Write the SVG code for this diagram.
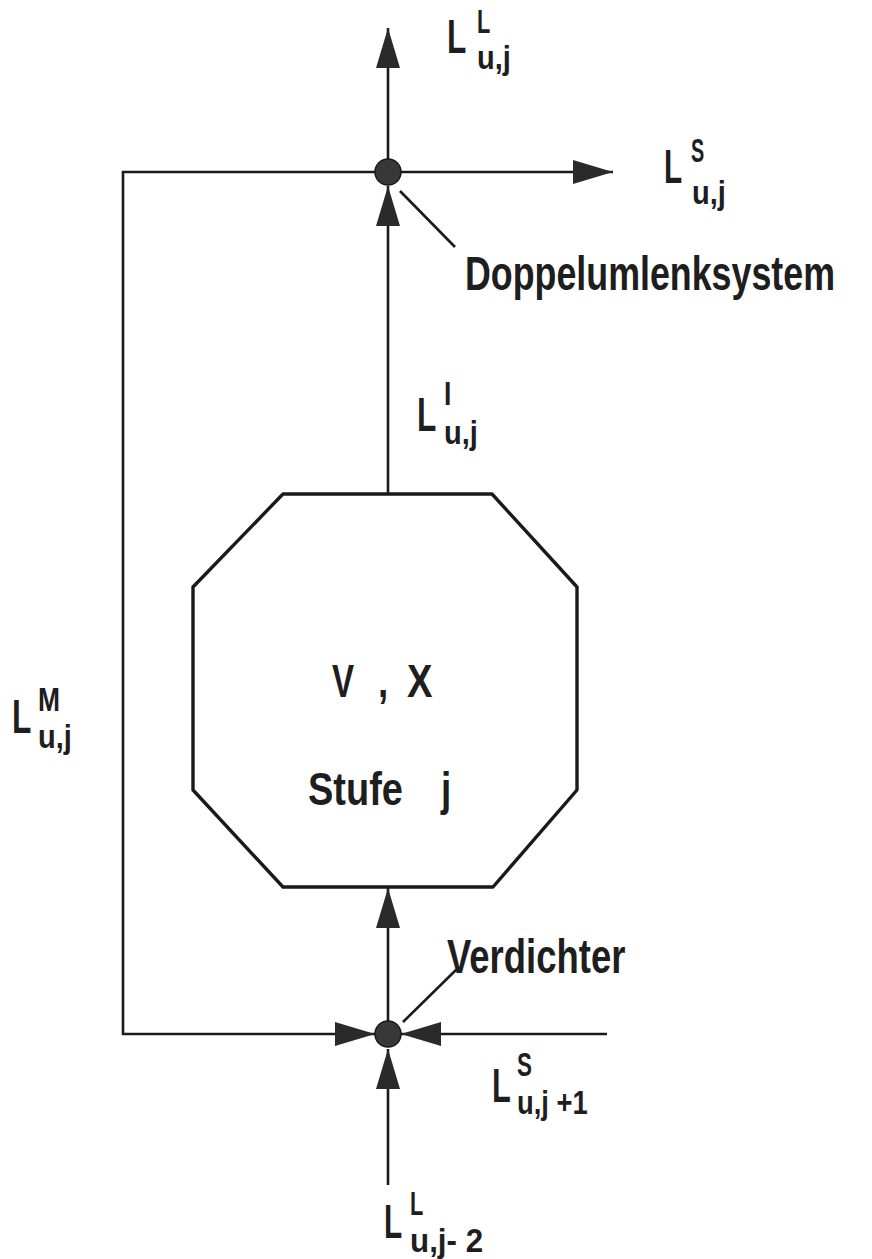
<svg xmlns="http://www.w3.org/2000/svg" width="872" height="1259" viewBox="0 0 872 1259">
<style>
  .ln{fill:none;stroke:#1a1a1a;stroke-width:2.6}
  .oct{fill:#fff;stroke:#1a1a1a;stroke-width:3.4;stroke-linejoin:round}
  .dot{fill:#383838;stroke:#1a1a1a;stroke-width:1.5}
  .t{font-family:"Liberation Sans","DejaVu Sans",sans-serif;font-weight:bold;fill:#1e1e1e}
  .big{font-size:48px}
  .mid{font-size:46px}
  .sm{font-size:33px}
</style>
<defs>
  <marker id="arr" viewBox="0 0 40 24" refX="40" refY="12" markerWidth="40" markerHeight="24" markerUnits="userSpaceOnUse" orient="auto">
    <path d="M0,0 L40,12 L0,24 Z" fill="#2a2a2a"/>
  </marker>
</defs>
<rect width="872" height="1259" fill="#fff"/>

<g id="connectors">
  <path class="ln" d="M388,172 V28" marker-end="url(#arr)"/>
  <path class="ln" d="M388,172 H613" marker-end="url(#arr)"/>
  <path class="ln" d="M388,494 V186" marker-end="url(#arr)"/>
  <path class="ln" d="M388,172 H123 V1034 H375" marker-end="url(#arr)"/>
  <path class="ln" d="M607,1034 H401" marker-end="url(#arr)"/>
  <path class="ln" d="M388,1034 V888" marker-end="url(#arr)"/>
  <path class="ln" d="M388,1185 V1049" marker-end="url(#arr)"/>
  <path class="ln" d="M400,191 L455,247"/>
  <path class="ln" d="M403,1022 L458,968"/>
</g>

<g id="stufe">
  <polygon class="oct" points="283,494 492,494 577,587 577,790 493,887 283,887 193,790 193,587"/>
  <text class="t mid" transform="translate(332,697) scale(0.72,1.02)">V</text>
  <text class="t mid" transform="translate(378,697) scale(0.8,1)">,</text>
  <text class="t mid" transform="translate(407,697) scale(0.83,1.02)">X</text>
  <text class="t mid" transform="translate(308,805) scale(0.826,1.02)">Stufe</text>
  <text class="t mid" transform="translate(441,805) scale(0.8,1.02)">j</text>
</g>

<g id="doppelumlenksystem">
  <circle class="dot" cx="388" cy="172" r="13"/>
  <text class="t big" transform="translate(465,290) scale(0.746,1.02)">Doppelumlenksystem</text>
</g>

<g id="verdichter">
  <circle class="dot" cx="388" cy="1034" r="13"/>
  <text class="t big" transform="translate(447,973) scale(0.76,1.02)">Verdichter</text>
</g>

<g id="label-L-L-uj">
  <text class="t big" transform="translate(447,53) scale(0.66,1.02)">L</text>
  <text class="t sm" transform="translate(477,33) scale(0.66,1.02)">L</text>
  <text class="t sm" transform="translate(477,69) scale(0.88,1)">u,j</text>
</g>

<g id="label-L-S-uj">
  <text class="t big" transform="translate(664,183) scale(0.62,1.02)">L</text>
  <text class="t sm" transform="translate(691,162) scale(0.6,1)">S</text>
  <text class="t sm" transform="translate(692,204) scale(0.88,1)">u,j</text>
</g>

<g id="label-L-I-uj">
  <text class="t big" transform="translate(417,431) scale(0.66,1.02)">L</text>
  <text class="t sm" transform="translate(444,405) scale(0.8,1)">I</text>
  <text class="t sm" transform="translate(444,444) scale(0.88,1)">u,j</text>
</g>

<g id="label-L-M-uj">
  <text class="t big" transform="translate(12,733) scale(0.66,1.02)">L</text>
  <text class="t sm" transform="translate(38,711) scale(0.8,1)">M</text>
  <text class="t sm" transform="translate(38,748) scale(0.88,1)">u,j</text>
</g>

<g id="label-L-S-uj1">
  <text class="t big" transform="translate(492,1102) scale(0.64,1.02)">L</text>
  <text class="t sm" transform="translate(517,1076) scale(0.68,1)">S</text>
  <text class="t sm" transform="translate(517,1114) scale(0.83,1)">u,j +1</text>
</g>

<g id="label-L-L-uj2">
  <text class="t big" transform="translate(384,1238) scale(0.62,1.02)">L</text>
  <text class="t sm" transform="translate(410,1215) scale(0.66,1)">L</text>
  <text class="t sm" transform="translate(410,1252) scale(0.95,1)">u,j- 2</text>
</g>
</svg>
